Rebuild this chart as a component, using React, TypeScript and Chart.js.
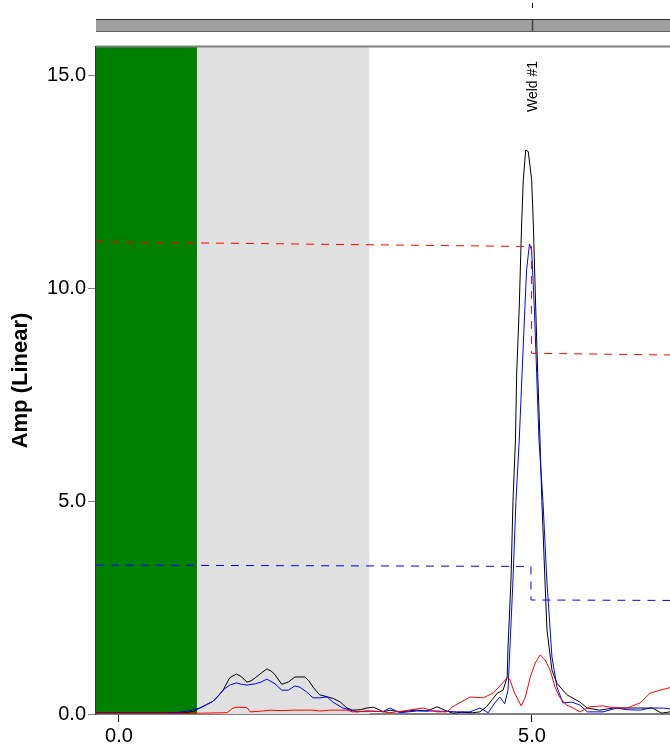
import React, { useEffect, useRef } from 'react';
import { Chart, registerables } from 'chart.js';

Chart.register(...registerables);

// Axis ranges and ticks
const xRange = [-0.278, 6.671];
const yRange = [0, 15.68];
const xTickValues = [0, 5];
const yTickValues = [0, 5, 10, 15];

// Zones (green then light gray) and weld markers
const zoneEdges = [0.945, 3.03];
const weldPositions = [5.0];
const weldLabels = ['Weld #1'];

// Black trace
const blackX = [-0.278, 0.0, 0.3, 0.6, 0.8, 0.9, 0.98, 1.06, 1.14, 1.2, 1.26, 1.34, 1.42, 1.48, 1.55, 1.6, 1.65, 1.72, 1.79, 1.85, 1.89, 1.97, 2.05, 2.13, 2.25, 2.3, 2.35, 2.43, 2.53, 2.6, 2.68, 2.76, 2.83, 2.92, 3.0, 3.08, 3.16, 3.2, 3.28, 3.4, 3.6, 3.73, 3.85, 3.97, 4.04, 4.15, 4.28, 4.37, 4.45, 4.58, 4.65, 4.7, 4.71, 4.746, 4.77, 4.8, 4.815, 4.846, 4.875, 4.895, 4.924, 4.955, 4.996, 5.016, 5.045, 5.069, 5.097, 5.12, 5.157, 5.182, 5.242, 5.303, 5.424, 5.58, 5.67, 5.82, 5.98, 6.15, 6.31, 6.46, 6.57, 6.671];
const blackY = [0.02, 0.02, 0.02, 0.02, 0.03, 0.06, 0.14, 0.22, 0.3, 0.42, 0.56, 0.85, 0.94, 0.88, 0.75, 0.78, 0.85, 0.96, 1.06, 1.0, 0.92, 0.7, 0.75, 0.87, 0.87, 0.78, 0.63, 0.45, 0.4, 0.36, 0.28, 0.14, 0.09, 0.1, 0.14, 0.16, 0.09, 0.05, 0.09, 0.05, 0.09, 0.07, 0.17, 0.07, 0.02, 0.04, 0.03, 0.05, 0.17, 0.49, 0.56, 0.87, 1.58, 3.15, 5.0, 6.44, 8.02, 9.57, 11.54, 12.56, 13.26, 13.22, 12.56, 11.54, 9.57, 8.02, 6.44, 5.0, 3.15, 1.97, 1.03, 0.72, 0.45, 0.28, 0.14, 0.09, 0.14, 0.14, 0.14, 0.14, 0.02, 0.05];

// Blue trace
const blueX = [-0.278, 0.0, 0.5, 0.7, 0.8, 0.9, 0.98, 1.06, 1.14, 1.2, 1.26, 1.34, 1.42, 1.48, 1.55, 1.65, 1.72, 1.79, 1.89, 1.97, 2.05, 2.13, 2.19, 2.27, 2.35, 2.43, 2.52, 2.59, 2.71, 2.88, 3.0, 3.12, 3.2, 3.28, 3.4, 3.6, 3.85, 4.09, 4.25, 4.37, 4.47, 4.55, 4.61, 4.67, 4.71, 4.77, 4.806, 4.846, 4.88, 4.915, 4.935, 4.97, 4.996, 5.028, 5.057, 5.085, 5.133, 5.18, 5.242, 5.303, 5.375, 5.484, 5.58, 5.67, 5.86, 6.03, 6.15, 6.31, 6.43, 6.59, 6.671];
const blueY = [0.02, 0.02, 0.02, 0.03, 0.06, 0.1, 0.14, 0.22, 0.3, 0.42, 0.56, 0.68, 0.73, 0.7, 0.68, 0.71, 0.75, 0.82, 0.71, 0.56, 0.56, 0.66, 0.63, 0.52, 0.38, 0.38, 0.4, 0.28, 0.14, 0.05, 0.07, 0.06, 0.06, 0.14, 0.03, 0.07, 0.07, 0.05, 0.05, 0.14, 0.03, 0.26, 0.4, 0.24, 0.56, 3.15, 5.0, 6.44, 8.0, 9.57, 10.44, 11.05, 10.9, 9.57, 8.0, 6.44, 5.0, 3.15, 1.34, 0.63, 0.26, 0.28, 0.21, 0.05, 0.05, 0.14, 0.1, 0.09, 0.14, 0.14, 0.12];

// Red trace
const redX = [-0.278, 0.5, 1.0, 1.31, 1.38, 1.44, 1.55, 1.59, 1.74, 1.83, 1.95, 2.11, 2.35, 2.43, 2.55, 2.76, 2.83, 3.08, 3.2, 3.28, 3.44, 3.68, 3.85, 3.97, 4.04, 4.25, 4.41, 4.53, 4.64, 4.7, 4.73, 4.79, 4.87, 4.92, 4.98, 5.04, 5.1, 5.16, 5.22, 5.28, 5.34, 5.42, 5.5, 5.58, 5.7, 5.86, 5.98, 6.15, 6.31, 6.43, 6.55, 6.671];
const redY = [0.01, 0.01, 0.02, 0.03, 0.14, 0.16, 0.15, 0.05, 0.07, 0.09, 0.08, 0.09, 0.09, 0.07, 0.09, 0.09, 0.05, 0.07, 0.05, 0.03, 0.07, 0.14, 0.05, 0.05, 0.17, 0.4, 0.38, 0.49, 0.72, 0.85, 0.82, 0.49, 0.19, 0.4, 0.87, 1.2, 1.39, 1.27, 1.03, 0.63, 0.38, 0.21, 0.14, 0.05, 0.17, 0.19, 0.15, 0.14, 0.26, 0.49, 0.56, 0.62];

// Threshold (dashed) lines
const redLimX = [-0.278, 4.995, 4.995, 6.671];
const redLimY = [11.1, 10.99, 8.48, 8.44];
const blueLimX = [-0.278, 4.988, 4.988, 6.671];
const blueLimY = [3.5, 3.47, 2.68, 2.67];

const pts = (xs: number[], ys: number[]) => xs.map((v, i) => ({ x: v, y: ys[i] }));

const FONT = '"Liberation Sans", Arial, sans-serif';

const overlayPlugin = {
  id: 'overlay',
  beforeDatasetsDraw(chart: any) {
    const { ctx, chartArea: a, scales } = chart;
    const x = scales.x;
    ctx.save();
    ctx.beginPath();
    ctx.rect(a.left, a.top, a.right - a.left, a.bottom - a.top);
    ctx.clip();
    const g1 = x.getPixelForValue(zoneEdges[0]);
    const g2 = x.getPixelForValue(zoneEdges[1]);
    ctx.fillStyle = '#008000';
    ctx.fillRect(a.left, a.top, g1 - a.left, a.bottom - a.top);
    ctx.fillStyle = '#e0e0e0';
    ctx.fillRect(g1, a.top, g2 - g1, a.bottom - a.top);
    ctx.restore();
  },
  afterDraw(chart: any) {
    const { ctx, chartArea: a, scales } = chart;
    const x = scales.x;
    ctx.save();
    // top border of plot
    ctx.strokeStyle = '#808080';
    ctx.lineWidth = 2;
    ctx.beginPath();
    ctx.moveTo(a.left, a.top - 0.5);
    ctx.lineTo(a.right, a.top - 0.5);
    ctx.stroke();
    // top strip
    ctx.fillStyle = '#a0a0a0';
    ctx.fillRect(a.left, 19.5, a.right - a.left, 12);
    ctx.lineWidth = 1;
    ctx.strokeStyle = '#303030';
    ctx.beginPath();
    ctx.moveTo(a.left, 19.5);
    ctx.lineTo(a.right, 19.5);
    ctx.stroke();
    ctx.strokeStyle = '#606060';
    ctx.beginPath();
    ctx.moveTo(a.left, 31.5);
    ctx.lineTo(a.right, 31.5);
    ctx.stroke();
    weldPositions.forEach((w, i) => {
      const px = Math.round(x.getPixelForValue(w)) + 0.5;
      ctx.strokeStyle = '#404040';
      ctx.lineWidth = 1.5;
      ctx.beginPath();
      ctx.moveTo(px, 20);
      ctx.lineTo(px, 31);
      ctx.stroke();
      ctx.strokeStyle = '#000';
      ctx.lineWidth = 1;
      ctx.beginPath();
      ctx.moveTo(px, 3);
      ctx.lineTo(px, 8);
      ctx.stroke();
      ctx.save();
      ctx.translate(px + 1, 86.5);
      ctx.rotate(-Math.PI / 2);
      ctx.fillStyle = '#000';
      ctx.font = '14px ' + FONT;
      ctx.textAlign = 'center';
      ctx.textBaseline = 'middle';
      ctx.fillText(weldLabels[i], 0, 0);
      ctx.restore();
    });
    ctx.restore();
  },
};

export default function App() {
  const ref = useRef<HTMLCanvasElement | null>(null);
  useEffect(() => {
    if (!ref.current) return;
    const common = { pointRadius: 0, tension: 0, fill: false, borderWidth: 1 };
    const chart = new Chart(ref.current, {
      type: 'line',
      data: {
        datasets: [
          { ...common, label: 'Red threshold', data: pts(redLimX, redLimY), borderColor: '#ff0000', borderDash: [8, 7] },
          { ...common, label: 'Blue threshold', data: pts(blueLimX, blueLimY), borderColor: '#0000ff', borderDash: [8, 7] },
          { ...common, label: 'Red', data: pts(redX, redY), borderColor: '#ff0000' },
          { ...common, label: 'Blue', data: pts(blueX, blueY), borderColor: '#0000ff' },
          { ...common, label: 'Black', data: pts(blackX, blackY), borderColor: '#000000' },
        ],
      },
      options: {
        animation: false,
        responsive: false,
        maintainAspectRatio: false,
        layout: { padding: { top: 47, left: 0, right: 0, bottom: 0 } },
        plugins: { legend: { display: false }, tooltip: { enabled: false } },
        font: { family: FONT },
        scales: {
          x: {
            type: 'linear',
            min: xRange[0],
            max: xRange[1],
            afterFit: (s: any) => { s.height = 36; },
            afterBuildTicks: (s: any) => { s.ticks = xTickValues.map((v) => ({ value: v })); },
            ticks: {
              callback: (v: any) => Number(v).toFixed(1),
              font: { size: 20, family: FONT },
              color: '#000',
              padding: 2,
              maxRotation: 0,
              autoSkip: false,
            },
            grid: { display: true, drawOnChartArea: false, drawTicks: true, tickLength: 8, tickColor: '#000', tickWidth: 1 },
            border: { display: true, color: '#808080', width: 2 },
          },
          y: {
            type: 'linear',
            min: yRange[0],
            max: yRange[1],
            afterFit: (s: any) => { s.width = 96; },
            afterBuildTicks: (s: any) => { s.ticks = yTickValues.map((v) => ({ value: v })); },
            ticks: {
              callback: (v: any) => Number(v).toFixed(1),
              font: { size: 20, family: FONT },
              color: '#000',
              padding: 2,
              autoSkip: false,
            },
            grid: { display: true, drawOnChartArea: false, drawTicks: true, tickLength: 8, tickColor: '#808080', tickWidth: 1 },
            border: { display: true, color: '#333333', width: 1.5 },
            title: {
              display: true,
              text: 'Amp (Linear)',
              color: '#000',
              font: { size: 22, weight: 'bold', family: FONT },
              padding: { top: 8, bottom: 0 },
            },
          },
        },
      },
      plugins: [overlayPlugin],
    } as any);
    return () => chart.destroy();
  }, []);
  return (
    <div style={{ position: 'fixed', left: 0, top: 0, width: 670, height: 750, background: '#fff' }}>
      <canvas ref={ref} width={670} height={750} style={{ display: 'block' }} />
    </div>
  );
}
